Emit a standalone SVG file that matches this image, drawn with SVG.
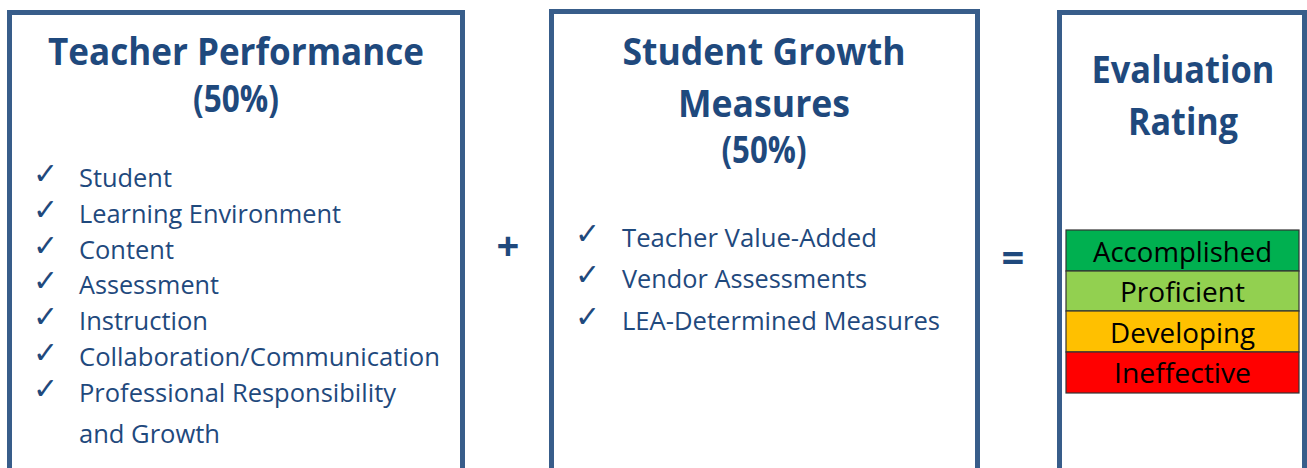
<svg xmlns="http://www.w3.org/2000/svg" width="1307" height="468" viewBox="0 0 1307 468">
<style>
.box{fill:#fff;stroke:#385D8A;stroke-width:5}
.h{font-family:"Open Sans","Liberation Sans",sans-serif;font-weight:700;font-size:37px;fill:#1F497D;text-anchor:middle}
.li{font-family:"Open Sans","Liberation Sans",sans-serif;font-size:26px;fill:#1F497D}
.ck{font-family:"DejaVu Sans",sans-serif;font-size:30px;font-weight:700;fill:#1F497D}
.op{font-family:"Open Sans","Liberation Sans",sans-serif;font-weight:700;font-size:40px;fill:#1F497D;text-anchor:middle}
.rt{font-family:"Open Sans","Liberation Sans",sans-serif;font-size:28px;fill:#000;text-anchor:middle}
.band{stroke:#333;stroke-width:1.2}
</style>
<rect width="1307" height="468" fill="#fff"/>
<g id="teacher-performance">
<rect class="box" x="9.5" y="12.5" width="453" height="470"/>
<text class="h" x="236" y="65" textLength="376" lengthAdjust="spacingAndGlyphs">Teacher Performance</text>
<text class="h" x="236" y="112" textLength="86" lengthAdjust="spacingAndGlyphs">(50%)</text>
<text class="ck" x="33" y="184">✓</text>
<text class="li" x="79" y="187" textLength="93" lengthAdjust="spacingAndGlyphs">Student</text>
<text class="ck" x="33" y="220">✓</text>
<text class="li" x="79" y="223" textLength="262" lengthAdjust="spacingAndGlyphs">Learning Environment</text>
<text class="ck" x="33" y="256">✓</text>
<text class="li" x="79" y="259" textLength="95" lengthAdjust="spacingAndGlyphs">Content</text>
<text class="ck" x="33" y="291">✓</text>
<text class="li" x="79" y="294" textLength="140" lengthAdjust="spacingAndGlyphs">Assessment</text>
<text class="ck" x="33" y="327">✓</text>
<text class="li" x="79" y="330" textLength="129" lengthAdjust="spacingAndGlyphs">Instruction</text>
<text class="ck" x="33" y="363">✓</text>
<text class="li" x="79" y="366" textLength="361" lengthAdjust="spacingAndGlyphs">Collaboration/Communication</text>
<text class="ck" x="33" y="399">✓</text>
<text class="li" x="79" y="402" textLength="317" lengthAdjust="spacingAndGlyphs">Professional Responsibility</text>
<text class="li" x="79" y="443" textLength="141" lengthAdjust="spacingAndGlyphs">and Growth</text>
</g>
<g id="student-growth">
<rect class="box" x="551.5" y="11.5" width="426" height="470"/>
<text class="h" x="764" y="65" textLength="283" lengthAdjust="spacingAndGlyphs">Student Growth</text>
<text class="h" x="764" y="117" textLength="172" lengthAdjust="spacingAndGlyphs">Measures</text>
<text class="h" x="764" y="163" textLength="85" lengthAdjust="spacingAndGlyphs">(50%)</text>
<text class="ck" x="575" y="244">✓</text>
<text class="li" x="622" y="247" textLength="255" lengthAdjust="spacingAndGlyphs">Teacher Value-Added</text>
<text class="ck" x="575" y="285">✓</text>
<text class="li" x="622" y="288" textLength="245" lengthAdjust="spacingAndGlyphs">Vendor Assessments</text>
<text class="ck" x="575" y="327">✓</text>
<text class="li" x="622" y="330" textLength="318" lengthAdjust="spacingAndGlyphs">LEA-Determined Measures</text>
</g>
<g id="evaluation-rating">
<rect class="box" x="1059.5" y="12.5" width="245" height="470"/>
<text class="h" x="1183" y="83" textLength="183" lengthAdjust="spacingAndGlyphs">Evaluation</text>
<text class="h" x="1183" y="135" textLength="110" lengthAdjust="spacingAndGlyphs">Rating</text>
<rect class="band" x="1066" y="230" width="233" height="41" fill="#00B050"/>
<rect class="band" x="1066" y="271" width="233" height="40" fill="#92D050"/>
<rect class="band" x="1066" y="311" width="233" height="41" fill="#FFC000"/>
<rect class="band" x="1066" y="352" width="233" height="41" fill="#FF0000"/>
<text class="rt" x="1182.5" y="262" textLength="179" lengthAdjust="spacingAndGlyphs">Accomplished</text>
<text class="rt" x="1182.5" y="302" textLength="125" lengthAdjust="spacingAndGlyphs">Proficient</text>
<text class="rt" x="1182.5" y="343" textLength="145" lengthAdjust="spacingAndGlyphs">Developing</text>
<text class="rt" x="1182.5" y="383" textLength="137" lengthAdjust="spacingAndGlyphs">Ineffective</text>
</g>
<g id="connectors">
<text class="op" x="508" y="260">+</text>
<text class="op" x="1013" y="272">=</text>
</g>
</svg>
